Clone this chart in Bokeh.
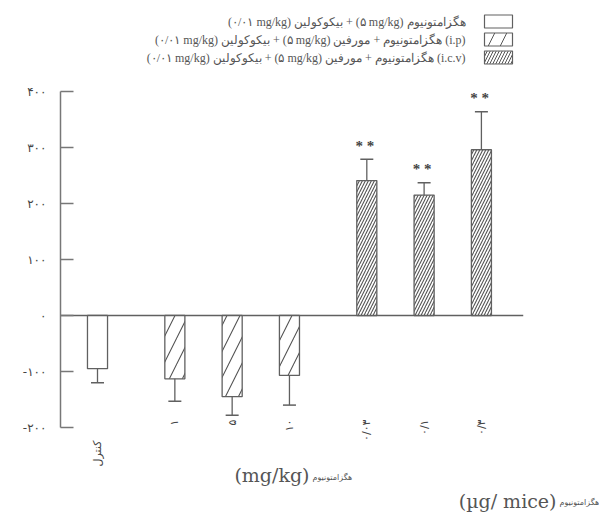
import math
from bokeh.plotting import figure
from bokeh.models import Range1d, FixedTicker
from bokeh.core.properties import value
from bokeh.embed import file_html
from bokeh.resources import INLINE

# ---------------- data ----------------
categories = ["کنترل", "۱", "۵", "۱۰", "۰/۰۳", "۰/۱", "۰/۳"]
group_index = [0, 1, 1, 1, 2, 2, 2]
means = [-95, -113, -145, -107, 241, 215, 296]
errors = [25, 40, 33, 53, 38, 22, 68]
significance = ["", "", "", "", "**", "**", "**"]
y_ticks = [-200, -100, 0, 100, 200, 300, 400]
y_tick_labels = ["-۲۰۰", "-۱۰۰", "۰", "۱۰۰", "۲۰۰", "۳۰۰", "۴۰۰"]

RLI, LRI, PDI = "\u2067", "\u2066", "\u2069"
def ltr(s):
    return LRI + s + PDI

legend_labels = [
    RLI + "هگزامتونیوم " + ltr("(۵ mg/kg)") + " + بیکوکولین " + ltr("(۰/۰۱ mg/kg)") + PDI,
    RLI + ltr("(i.p)") + " هگزامتونیوم + مورفین " + ltr("(۵ mg/kg)") + " + بیکوکولین " + ltr("(۰/۰۱ mg/kg)") + PDI,
    RLI + ltr("(i.c.v)") + " هگزامتونیوم + مورفین " + ltr("(۵ mg/kg)") + " + بیکوکولین " + ltr("(۰/۰۱ mg/kg)") + PDI,
]
x_title_1 = "(mg/kg)"
x_title_2 = "(µg/ mice)"
drug_name = "هگزامتونیوم"

# ---------------- layout helpers (page pixels -> data) ----------------
UNIT = 57.3          # px per category slot
X0_PX = 97           # page x of first bar centre
ZERO_PX = 315        # page y of value 0
PX_PER_VAL = 0.56    # px per unit of value
GROUP_GAP = 0.35

def dx(px):
    return (px - X0_PX) / UNIT

def dy(py):
    return (ZERO_PX - py) / PX_PER_VAL

positions = [i + GROUP_GAP * g for i, g in enumerate(group_index)]
tips = [m + (1 if m >= 0 else -1) * e for m, e in zip(means, errors)]

FIG_W, FIG_H = 599, 515
AXIS_PX = 60
p = figure(width=FIG_W, height=FIG_H, title=None,
           x_range=Range1d(dx(AXIS_PX), dx(FIG_W)),
           y_range=Range1d(dy(FIG_H), dy(0)),
           x_axis_location=None, toolbar_location=None,
           output_backend="svg", min_border_left=AXIS_PX, min_border_right=0,
           min_border_top=0, min_border_bottom=0,
           outline_line_color=None, background_fill_color="white",
           border_fill_color="white")
p.grid.visible = False

ax = p.yaxis[0]
ax.bounds = (y_ticks[0], y_ticks[-1])
ax.ticker = FixedTicker(ticks=y_ticks)
ax.major_label_overrides = {t: l for t, l in zip(y_ticks, y_tick_labels)}
ax.minor_tick_line_color = None
ax.major_tick_in = 13
ax.major_tick_out = 0
ax.axis_line_color = "#777777"
ax.axis_line_width = 1.5
ax.major_tick_line_color = "#777777"
ax.major_tick_line_width = 1.5
ax.major_label_standoff = 14
ax.major_label_text_font = "DejaVu Sans"
ax.major_label_text_font_size = "12px"
ax.major_label_text_color = "#444444"

LINE = "#606060"

# zero line
p.segment(x0=[dx(AXIS_PX)], y0=[0], x1=[positions[-1] + 0.73], y1=[0],
          line_color=LINE, line_width=1.4)

# bars by group
hatch_patterns = [" ", "/", "/"]
hatch_scales = [10, 26, 6]
for g in range(3):
    idx = [i for i, gi in enumerate(group_index) if gi == g]
    p.vbar(x=[positions[i] for i in idx], top=[means[i] for i in idx], bottom=0,
           width=0.35, fill_color="white", line_color=LINE, line_width=1.3,
           hatch_pattern=hatch_patterns[g], hatch_scale=hatch_scales[g],
           hatch_color="#555555", hatch_weight=1.1)

# error bars
p.segment(x0=positions, y0=means, x1=positions, y1=tips,
          line_color=LINE, line_width=1.3)
p.dash(x=positions, y=tips, size=13, line_color=LINE, line_width=1.5)

# significance stars
star_text = ["  ".join(s) for s in significance]
p.text(x=positions, y=[t + 24 for t in tips], text=star_text,
       text_align="center", text_baseline="middle",
       text_font=value("Liberation Serif"), text_font_size="15px",
       text_font_style="bold", text_color="#444444")

# category labels (rotated)
label_top_py = [440 if g == 0 else 419 for g in group_index]
p.text(x=positions, y=[dy(v) for v in label_top_py], text=categories,
       angle=math.pi / 2, text_align="right", text_baseline="middle",
       text_font=value("DejaVu Sans"), text_font_size="11px",
       text_color="#444444")

# axis titles
p.text(x=[dx(309)], y=[dy(474)], text=[x_title_1], text_align="right",
       text_baseline="middle", text_font=value("DejaVu Serif"),
       text_font_size="19px", text_color="#555555")
p.text(x=[dx(312)], y=[dy(477)], text=[drug_name], text_align="left",
       text_baseline="middle", text_font=value("DejaVu Sans"),
       text_font_size="8px", text_color="#555555")
p.text(x=[dx(556)], y=[dy(500)], text=[x_title_2], text_align="right",
       text_baseline="middle", text_font=value("DejaVu Serif"),
       text_font_size="19px", text_color="#555555")
p.text(x=[dx(559)], y=[dy(502)], text=[drug_name], text_align="left",
       text_baseline="middle", text_font=value("DejaVu Sans"),
       text_font_size="8px", text_color="#555555")

# legend (label on the left, swatch on the right)
row_py = [21, 39, 57]
legend_hatch_scale = [10, 24, 6]
for i, lab in enumerate(legend_labels):
    p.rect(x=[dx(498)], y=[dy(row_py[i])], width=28, height=13,
           width_units="screen", height_units="screen",
           fill_color="white", line_color=LINE, line_width=1.2,
           hatch_pattern=hatch_patterns[i], hatch_scale=legend_hatch_scale[i],
           hatch_color="#555555", hatch_weight=1)
    p.text(x=[dx(465)], y=[dy(row_py[i])], text=[lab], text_align="right",
           text_baseline="middle", text_font=value("Liberation Serif"),
           text_font_size="12px", text_color="#555555")

open("out.html", "w").write(file_html(p, INLINE))
